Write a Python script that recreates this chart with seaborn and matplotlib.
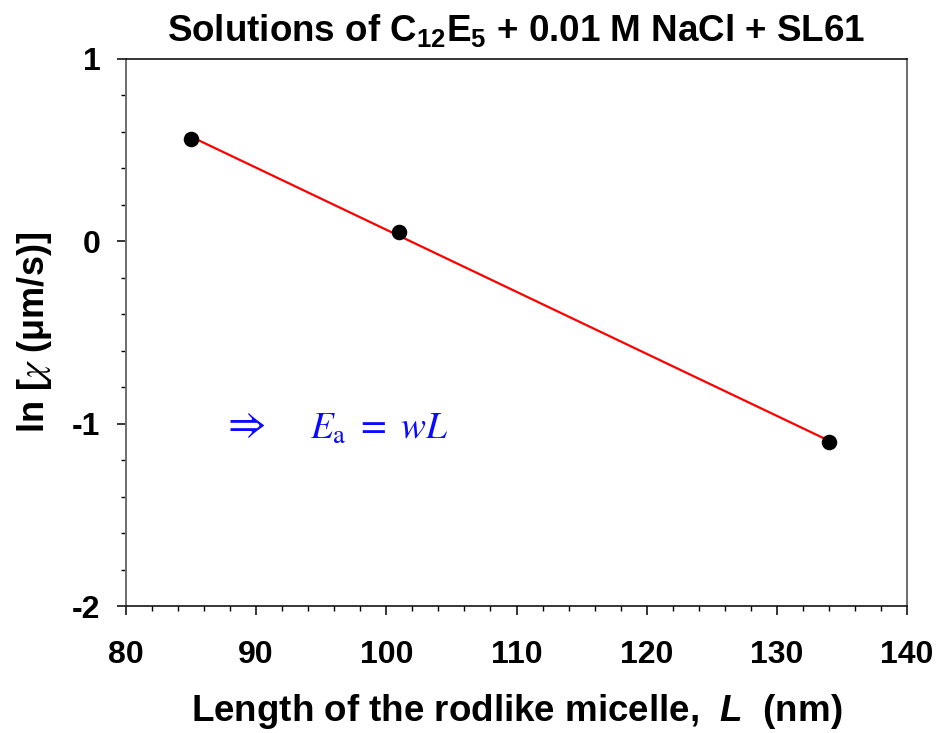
import matplotlib
matplotlib.use("Agg")
import matplotlib.pyplot as plt
import seaborn as sns
import numpy as np
import pandas as pd
from matplotlib.ticker import MultipleLocator

# Data
length_nm = [85, 101, 134]
ln_chi = [0.56, 0.05, -1.10]

x_ticks = [80, 90, 100, 110, 120, 130, 140]
y_ticks = [-2, -1, 0, 1]

title_text = r"Solutions of C$_{\mathbf{12}}$E$_{\mathbf{5}}$ + 0.01 M NaCl + SL61"
xlabel_text = r"Length of the rodlike micelle,  $\mathit{L}$  (nm)"
ylabel_text = r"ln [$\chi$ (μm/s)]"

sns.set_theme(style="white")
plt.rcParams['font.family'] = ['Liberation Sans', 'DejaVu Sans']
plt.rcParams['text.color'] = 'black'
plt.rcParams['axes.labelcolor'] = 'black'
plt.rcParams['xtick.color'] = 'black'
plt.rcParams['ytick.color'] = 'black'
plt.rcParams['axes.unicode_minus'] = False
plt.rcParams['mathtext.fontset'] = 'custom'
plt.rcParams['mathtext.rm'] = 'Liberation Sans:bold'
plt.rcParams['mathtext.bf'] = 'Liberation Sans:bold'
plt.rcParams['mathtext.it'] = 'Liberation Sans:bold:italic'

df = pd.DataFrame({"L": length_nm, "lnchi": ln_chi})

fig = plt.figure(figsize=(9.52, 7.33), dpi=100)
ax = fig.add_axes([126/952, 1-606/733, (907-126)/952, (606-59)/733])

sns.regplot(data=df, x="L", y="lnchi", ax=ax, ci=None,
            scatter_kws=dict(s=125, color="black", alpha=1, zorder=3, linewidths=0),
            line_kws=dict(color="red", lw=1.6, zorder=2))

ax.set_xlim(80, 140)
ax.set_ylim(-2, 1)
ax.set_xticks(x_ticks)
ax.set_yticks(y_ticks)
ax.xaxis.set_minor_locator(MultipleLocator(2))
ax.yaxis.set_minor_locator(MultipleLocator(0.2))
ax.tick_params(axis='both', which='major', direction='out', length=6.3, width=1.1,
               labelsize=23, color='black')
ax.tick_params(axis='both', which='minor', direction='out', length=3.6, width=1.0, color='black')
ax.tick_params(axis='x', which='major', pad=18)
ax.tick_params(axis='y', which='major', pad=12)
ax.tick_params(axis='both', which='both', bottom=True, left=True, top=False, right=False)
for lab in ax.get_xticklabels() + ax.get_yticklabels():
    lab.set_fontweight('bold')

for side in ['top', 'bottom']:
    ax.spines[side].set_color('black')
    ax.spines[side].set_linewidth(1.1)
for side in ['left', 'right']:
    ax.spines[side].set_color('#6e6e6e')
    ax.spines[side].set_linewidth(1.4)

ax.set_xlabel(xlabel_text, fontsize=26.5, fontweight='bold', labelpad=16)
ax.set_ylabel(ylabel_text, fontsize=26, fontweight='bold', labelpad=13)
ax.yaxis.label.set_math_fontfamily('stix')
ax.set_title(title_text, fontsize=26.5, fontweight='bold', pad=13)

ax.text(87.3, -1.01, r"$\Rightarrow$", color="#0a0aff", fontsize=30,
        fontweight='normal', math_fontfamily='stix', va='center', ha='left')
ax.text(94.1, -1.082, r"$E_\mathrm{a}\ =\ wL$", color="#0a0aff", fontsize=27,
        fontweight='normal', math_fontfamily='stix', va='baseline', ha='left')

fig.savefig("out.png", dpi=100)
